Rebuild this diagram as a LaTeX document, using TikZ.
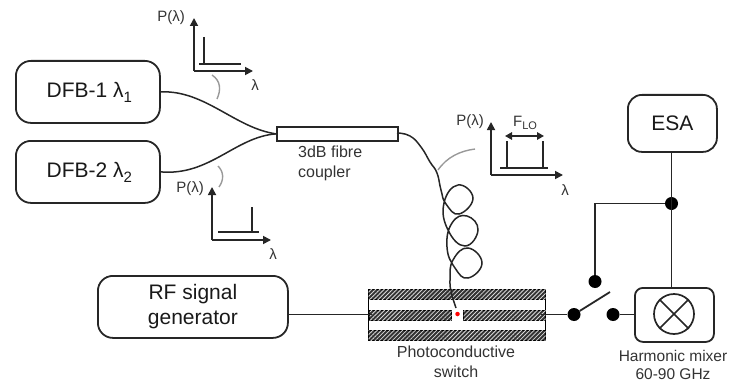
\documentclass[tikz,border=0pt]{standalone}
\usepackage{fontspec}
\setmainfont{Liberation Sans}
\usetikzlibrary{patterns.meta,arrows.meta}
\newcommand{\subtxt}[2]{\raisebox{-0.45ex}{\fontsize{#1}{#1}\selectfont #2}}
\tikzset{
  x=1pt,y=-1pt,
  wire/.style={line width=1.8pt,draw=black!85},
  fibre/.style={line width=1.5pt,draw=black!85},
  axis/.style={line width=1.7pt,draw=black!85,-{Triangle[length=8pt,width=8pt]}},
  trace/.style={line width=1.5pt,draw=black!85},
  grayarc/.style={line width=1.4pt,draw=black!40},
  roundbox/.style={draw=black!85,line width=1.8pt,rounded corners=15pt,inner sep=0pt,anchor=north west,align=center},
  biglabel/.style={font=\fontsize{21}{24}\selectfont,text=black!90},
  lab/.style={font=\fontsize{15}{19}\selectfont,text=black!80,align=center,inner sep=0pt},
  caplab/.style={lab,font=\fontsize{16}{19.5}\selectfont},
  mixlabel/.style={lab,font=\fontsize{15.5}{18}\selectfont},
  dotnode/.style={circle,fill=black,inner sep=0pt,minimum size=13pt},
  hatched/.style={draw=black,line width=1.2pt,fill=black!80,postaction={pattern={Lines[angle=45,distance=3pt,line width=0.8pt]},pattern color=white!85!black}},
}
\begin{document}
\begin{tikzpicture}
\useasboundingbox (0,0) rectangle (730,385);
% boxes
\node[roundbox,biglabel,minimum width=144pt,minimum height=62pt,xshift=0pt] (dfb1) at (15,60) {\hspace{3pt}DFB-1 λ\subtxt{15}{1}};
\node[roundbox,biglabel,minimum width=144pt,minimum height=62pt] (dfb2) at (15,140) {\hspace{3pt}DFB-2 λ\subtxt{15}{2}};
\node[roundbox,biglabel,minimum width=190pt,minimum height=62pt] (rf) at (97,275) {\rule{0pt}{3pt}RF signal\\[1pt]generator};
\node[roundbox,biglabel,minimum width=89pt,minimum height=57pt,rounded corners=14pt] (esa) at (627,94) {ESA};
\node[roundbox,minimum width=79pt,minimum height=54pt,rounded corners=8pt] (mixer) at (634,287) {};
\node[draw=black!85,line width=1.7pt,circle,minimum size=40pt,inner sep=0pt] (mixc) at (674,314) {};
\draw[line width=1.7pt,draw=black!85] (mixc.north west) -- (mixc.south east) (mixc.north east) -- (mixc.south west);
% coupler
\node[draw=black!85,line width=1.7pt,minimum width=121pt,minimum height=14pt,inner sep=0pt,anchor=north west] (coupler) at (276,126) {};
\node[caplab,anchor=north west,align=left] (couplerlab) at (298,146) {3dB fibre\\coupler};
% fibres
\draw[fibre] (dfb1.east) .. controls (205,90) and (235,128) .. (coupler.west);
\draw[fibre] (dfb2.east) .. controls (210,176) and (235,137) .. (coupler.west);
% coil
\draw[fibre] plot[smooth,tension=0.8] coordinates {(397,133) (410,136) (421,147) (430,162) (437,173) (441,190) (446,204) (459,214) (473,198) (458,185) (444,203) (448,230) (465,246) (478,230) (467,216) (452,223) (447,247) (455,268) (468,278) (482,263) (468,248) (453,260) (450,280) (452,296) (456,308)};
% switch
\node[draw=black,line width=1.2pt,fill=white,minimum width=177pt,minimum height=51pt,inner sep=0pt,anchor=north west] (sw) at (368,289) {};
\node[hatched,minimum width=177pt,minimum height=10pt,inner sep=0pt,anchor=north west] (swt) at (368,289) {};
\node[hatched,minimum width=177pt,minimum height=10pt,inner sep=0pt,anchor=north west] (swb) at (368,330) {};
\node[hatched,minimum width=82pt,minimum height=10pt,inner sep=0pt,anchor=north west] (swl) at (369,309.5) {};
\node[hatched,minimum width=82pt,minimum height=10pt,inner sep=0pt,anchor=north west] (swr) at (463,309.5) {};
\node[circle,fill=red,inner sep=0pt,minimum size=4.5pt] (laser) at (457.5,314) {};
\draw[fibre] (451,289) -- (452,296) -- (456,308);
\node[caplab] (swlab) at (456,362) {Photoconductive\\switch};
% wires
\coordinate (swlin) at (372,314.5);
\coordinate (swrin) at (541,314.5);
\node[dotnode] (d1) at (574,314.5) {};
\node[dotnode] (d2) at (613,314.5) {};
\node[dotnode] (d3) at (595,281.5) {};
\node[dotnode] (d4) at (671.5,203.5) {};
\coordinate (arm) at (610,292);
\draw[wire] (rf.east |- swlin) -- (swlin);
\draw[wire] (swrin) -- (d1);
\draw[wire] (d1) -- (arm);
\draw[wire] (d2) -- (mixer.west |- d2);
\draw[wire] (d3) |- (d4);
\draw[wire] (esa.south -| d4) -- (mixer.north -| d4);
\node[mixlabel] (mixlab) at (673,365) {Harmonic mixer\\60-90 GHz};
% spectrum 1
\coordinate (o1) at (194,71);
\coordinate (y1) at (194,18);
\coordinate (x1) at (253,71);
\draw[axis] (o1) -- (y1);
\draw[axis] (o1) -- (x1);
\coordinate (b1a) at (199,64); \coordinate (b1b) at (241,64);
\coordinate (s1) at (204,37);
\draw[trace] (b1a) -- (b1b);
\draw[trace] (s1) -- (s1 |- b1a);
\node[lab] (p1) at (171,18) {P(λ)};
\node[lab] (l1) at (255,85) {λ};
% spectrum 2
\coordinate (o2) at (212,240);
\coordinate (y2) at (212,187);
\coordinate (x2) at (271,240);
\draw[axis] (o2) -- (y2);
\draw[axis] (o2) -- (x2);
\coordinate (b2a) at (218,232); \coordinate (b2b) at (259,232);
\coordinate (s2) at (252,207);
\draw[trace] (b2a) -- (b2b);
\draw[trace] (s2) -- (s2 |- b2a);
\node[lab] (p2) at (190,189) {P(λ)};
\node[lab] (l2) at (273,254) {λ};
% spectrum 3
\coordinate (o3) at (491,175);
\coordinate (y3) at (491,122);
\coordinate (x3) at (563,175);
\draw[axis] (o3) -- (y3);
\draw[axis] (o3) -- (x3);
\coordinate (b3a) at (500,168); \coordinate (b3b) at (548,168);
\coordinate (s3a) at (507,141); \coordinate (s3b) at (543,141);
\draw[trace] (b3a) -- (b3b);
\draw[trace] (s3a) -- (s3a |- b3a);
\draw[trace] (s3b) -- (s3b |- b3a);
\draw[line width=1.5pt,draw=black!85,{Triangle[length=7pt,width=7.5pt]}-{Triangle[length=7pt,width=7.5pt]}] (505,136) -- (544,136);
\node[lab] (p3) at (470,122) {P(λ)};
\node[lab] (l3) at (565,190) {λ};
\node[lab] (flo) at (525,123) {F\subtxt{11}{LO}};
% gray arcs
\draw[grayarc] (212,75) .. controls (221,81) and (221,90) .. (217,99);
\draw[grayarc] (218,166) .. controls (224,172) and (224,180) .. (219,187);
\draw[grayarc] (438,170) .. controls (447,157) and (460,151) .. (475,149);
\end{tikzpicture}
\end{document}
